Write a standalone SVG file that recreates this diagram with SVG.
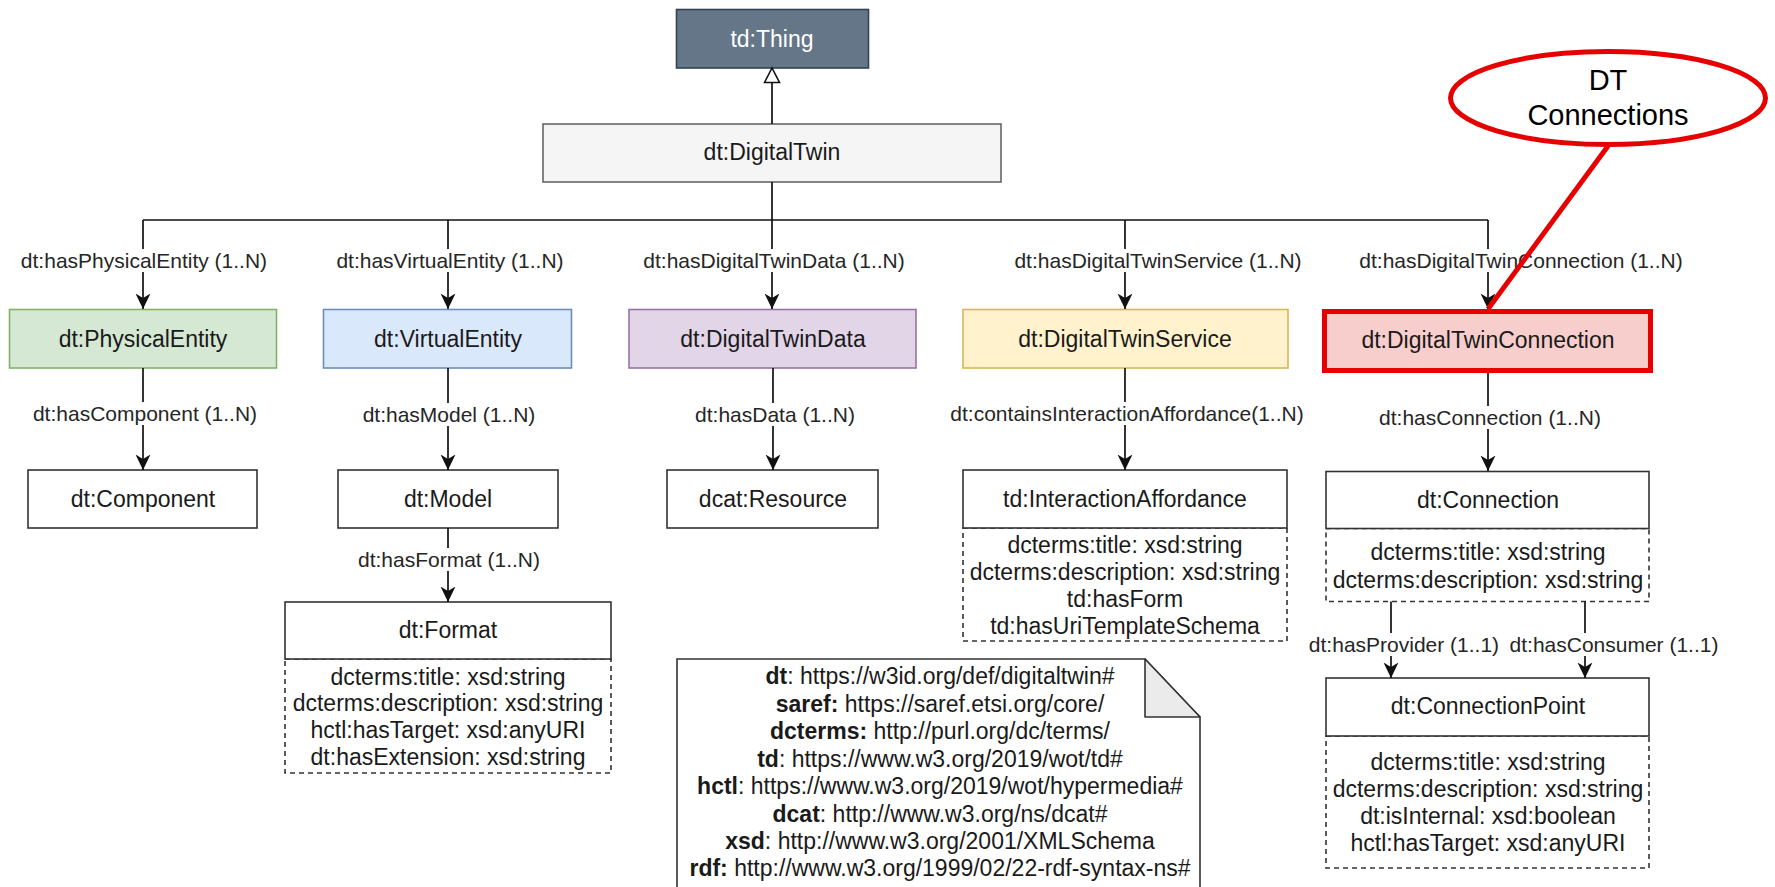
<svg xmlns="http://www.w3.org/2000/svg" width="1775" height="887" viewBox="0 0 1775 887">
  <style>
    text { font-family: "Liberation Sans", Arial, Helvetica, sans-serif; fill: #1a1a1a; text-anchor: middle; }
    .name { font-size: 23px; }
    .attr { font-size: 23px; }
    .lbl { font-size: 21px; fill: #262626; }
    .note { font-size: 23px; }
    .note .b { font-weight: bold; }
    .box { fill: #ffffff; stroke: #333333; stroke-width: 1.6; }
    .dash { fill: #ffffff; stroke: #333333; stroke-width: 1.6; stroke-dasharray: 5 4; }
    .edge { fill: none; stroke: #111111; stroke-width: 1.7; }
    .arrow { marker-end: url(#arr); }
    .lblbg { fill: #ffffff; }
  </style>
  <defs>
    <marker id="arr" viewBox="0 0 16 16" refX="15.5" refY="8" markerWidth="16" markerHeight="16" markerUnits="userSpaceOnUse" orient="auto">
      <path d="M0,0.5 L15.5,8 L0,15.5 L4.5,8 Z" fill="#111111"/>
    </marker>
    <marker id="gen" viewBox="0 0 18 18" refX="16" refY="9" markerWidth="18" markerHeight="18" markerUnits="userSpaceOnUse" orient="auto">
      <path d="M1.5,1.5 L16,9 L1.5,16.5 Z" fill="#ffffff" stroke="#111111" stroke-width="1.6"/>
    </marker>
  </defs>

  <rect width="1775" height="887" fill="#ffffff"/>

  <!-- top of the hierarchy -->
  <g id="thing">
    <rect x="676.5" y="9.5" width="192" height="58.5" fill="#647687" stroke="#314354" stroke-width="1.6"/>
    <text class="name" x="772" y="47" style="fill:#ffffff">td:Thing</text>
  </g>
  <g id="digital-twin">
    <rect x="543" y="124" width="458" height="58" fill="#f5f5f5" stroke="#666666" stroke-width="1.6"/>
    <text class="name" x="772" y="160">dt:DigitalTwin</text>
  </g>

  <!-- first level classes -->
  <g id="physical-entity">
    <rect x="9.5" y="309.5" width="267" height="58.5" fill="#d5e8d4" stroke="#82b366" stroke-width="1.6"/>
    <text class="name" x="143" y="347">dt:PhysicalEntity</text>
  </g>
  <g id="virtual-entity">
    <rect x="323.5" y="309.5" width="248" height="58.5" fill="#dae8fc" stroke="#6c8ebf" stroke-width="1.6"/>
    <text class="name" x="448" y="347">dt:VirtualEntity</text>
  </g>
  <g id="digital-twin-data">
    <rect x="629" y="309.5" width="287" height="58.5" fill="#e1d5e7" stroke="#9673a6" stroke-width="1.6"/>
    <text class="name" x="773" y="347">dt:DigitalTwinData</text>
  </g>
  <g id="digital-twin-service">
    <rect x="963" y="309.5" width="325" height="58.5" fill="#fff2cc" stroke="#d6b656" stroke-width="1.6"/>
    <text class="name" x="1125" y="347">dt:DigitalTwinService</text>
  </g>
  <g id="digital-twin-connection">
    <rect x="1324.5" y="311.5" width="326" height="59" fill="#f8cecc" stroke="#e60000" stroke-width="5"/>
    <text class="name" x="1488" y="348">dt:DigitalTwinConnection</text>
  </g>

  <!-- second level classes -->
  <g id="component">
    <rect class="box" x="28" y="470" width="229" height="58"/>
    <text class="name" x="143" y="507">dt:Component</text>
  </g>
  <g id="model">
    <rect class="box" x="338" y="470" width="220" height="58"/>
    <text class="name" x="448" y="507">dt:Model</text>
  </g>
  <g id="resource">
    <rect class="box" x="667" y="470" width="211" height="58"/>
    <text class="name" x="773" y="507">dcat:Resource</text>
  </g>
  <g id="interaction-affordance">
    <rect class="dash" x="963" y="528" width="324" height="113"/>
    <rect class="box" x="963" y="470" width="324" height="58"/>
    <text class="name" x="1125" y="507">td:InteractionAffordance</text>
    <text class="attr" x="1125" y="553">dcterms:title: xsd:string</text>
    <text class="attr" x="1125" y="580">dcterms:description: xsd:string</text>
    <text class="attr" x="1125" y="607">td:hasForm</text>
    <text class="attr" x="1125" y="634">td:hasUriTemplateSchema</text>
  </g>
  <g id="connection">
    <rect class="dash" x="1326" y="528.5" width="323" height="73"/>
    <rect class="box" x="1326" y="471.5" width="323" height="57"/>
    <text class="name" x="1488" y="508">dt:Connection</text>
    <text class="attr" x="1488" y="560">dcterms:title: xsd:string</text>
    <text class="attr" x="1488" y="588">dcterms:description: xsd:string</text>
  </g>
  <g id="format">
    <rect class="dash" x="285" y="659" width="326" height="114"/>
    <rect class="box" x="285" y="602" width="326" height="57"/>
    <text class="name" x="448" y="638">dt:Format</text>
    <text class="attr" x="448" y="685">dcterms:title: xsd:string</text>
    <text class="attr" x="448" y="711">dcterms:description: xsd:string</text>
    <text class="attr" x="448" y="738">hctl:hasTarget: xsd:anyURI</text>
    <text class="attr" x="448" y="765">dt:hasExtension: xsd:string</text>
  </g>
  <g id="connection-point">
    <rect class="dash" x="1326" y="736" width="323" height="132"/>
    <rect class="box" x="1326" y="678" width="323" height="58"/>
    <text class="name" x="1488" y="714">dt:ConnectionPoint</text>
    <text class="attr" x="1488" y="770">dcterms:title: xsd:string</text>
    <text class="attr" x="1488" y="797">dcterms:description: xsd:string</text>
    <text class="attr" x="1488" y="824">dt:isInternal: xsd:boolean</text>
    <text class="attr" x="1488" y="851">hctl:hasTarget: xsd:anyURI</text>
  </g>

  <!-- namespace prefixes note -->
  <g id="prefix-note">
    <path d="M677,659 H1145 L1200,717 V892 H677 Z" fill="#ffffff" stroke="#333333" stroke-width="1.6"/>
    <path d="M1145,659 V717 H1200 Z" fill="#ebebeb" stroke="#333333" stroke-width="1.6" stroke-linejoin="round"/>
    <text class="note" x="940" y="684"><tspan class="b">dt</tspan>: https://w3id.org/def/digitaltwin#</text>
    <text class="note" x="940" y="712"><tspan class="b">saref:</tspan> https://saref.etsi.org/core/</text>
    <text class="note" x="940" y="739"><tspan class="b">dcterms:</tspan> http://purl.org/dc/terms/</text>
    <text class="note" x="940" y="767"><tspan class="b">td</tspan>: https://www.w3.org/2019/wot/td#</text>
    <text class="note" x="940" y="794"><tspan class="b">hctl</tspan>: https://www.w3.org/2019/wot/hypermedia#</text>
    <text class="note" x="940" y="822"><tspan class="b">dcat</tspan>: http://www.w3.org/ns/dcat#</text>
    <text class="note" x="940" y="849"><tspan class="b">xsd</tspan>: http://www.w3.org/2001/XMLSchema</text>
    <text class="note" x="940" y="876"><tspan class="b">rdf:</tspan> http://www.w3.org/1999/02/22-rdf-syntax-ns#</text>
  </g>

  <!-- relations -->
  <g id="connectors">
    <!-- subclass of td:Thing -->
    <path class="edge" d="M772,124 V68" marker-end="url(#gen)"/>
    <!-- bus from dt:DigitalTwin -->
    <path class="edge" d="M143,220 H1488"/>
    <path class="edge arrow" d="M772,182 V309"/>
    <path class="edge arrow" d="M143,220 V309"/>
    <path class="edge arrow" d="M448,220 V309"/>
    <path class="edge arrow" d="M1125,220 V309"/>
    <path class="edge arrow" d="M1488,220 V309"/>
    <!-- second level -->
    <path class="edge arrow" d="M143,368 V470"/>
    <path class="edge arrow" d="M448,368 V470"/>
    <path class="edge arrow" d="M773,368 V470"/>
    <path class="edge arrow" d="M1125,368 V470"/>
    <path class="edge arrow" d="M1488,373 V471"/>
    <path class="edge arrow" d="M448,528 V602"/>
    <path class="edge arrow" d="M1391,601.5 V678"/>
    <path class="edge arrow" d="M1585,601.5 V678"/>

    <!-- edge labels -->
    <rect class="lblbg" x="19" y="249" width="250" height="23"/>
    <text class="lbl" x="144" y="267.5">dt:hasPhysicalEntity (1..N)</text>
    <rect class="lblbg" x="334" y="249" width="232" height="23"/>
    <text class="lbl" x="450" y="267.5">dt:hasVirtualEntity (1..N)</text>
    <rect class="lblbg" x="641" y="249" width="266" height="23"/>
    <text class="lbl" x="774" y="267.5">dt:hasDigitalTwinData (1..N)</text>
    <rect class="lblbg" x="1012" y="249" width="292" height="23"/>
    <text class="lbl" x="1158" y="267.5">dt:hasDigitalTwinService (1..N)</text>
    <rect class="lblbg" x="1357" y="249" width="328" height="23"/>
    <text class="lbl" x="1521" y="267.5">dt:hasDigitalTwinConnection (1..N)</text>

    <rect class="lblbg" x="31" y="402" width="228" height="23"/>
    <text class="lbl" x="145" y="420.5">dt:hasComponent (1..N)</text>
    <rect class="lblbg" x="361" y="403" width="177" height="23"/>
    <text class="lbl" x="449" y="421.5">dt:hasModel (1..N)</text>
    <rect class="lblbg" x="693" y="403" width="164" height="23"/>
    <text class="lbl" x="775" y="421.5">dt:hasData (1..N)</text>
    <rect class="lblbg" x="948" y="402" width="358" height="23"/>
    <text class="lbl" x="1127" y="420.5">dt:containsInteractionAffordance(1..N)</text>
    <rect class="lblbg" x="1378" y="406" width="226" height="23"/>
    <text class="lbl" x="1490" y="424.5">dt:hasConnection (1..N)</text>
    <rect class="lblbg" x="356" y="548" width="186" height="23"/>
    <text class="lbl" x="449" y="566.5">dt:hasFormat (1..N)</text>
    <rect class="lblbg" x="1308" y="633" width="194" height="23"/>
    <text class="lbl" x="1404" y="651.5">dt:hasProvider (1..1)</text>
    <rect class="lblbg" x="1508" y="633" width="212" height="23"/>
    <text class="lbl" x="1614" y="651.5">dt:hasConsumer (1..1)</text>

    <!-- callout pointer -->
    <path d="M1608,146 L1488,309" fill="none" stroke="#e60000" stroke-width="5"/>
  </g>

  <!-- callout -->
  <g id="callout-dt-connections">
    <ellipse cx="1608" cy="98" rx="157.5" ry="46.5" fill="#ffffff" stroke="#e60000" stroke-width="5"/>
    <text x="1608" y="90" style="font-size:29px;fill:#000000">DT</text>
    <text x="1608" y="125" style="font-size:29px;fill:#000000">Connections</text>
  </g>
</svg>
